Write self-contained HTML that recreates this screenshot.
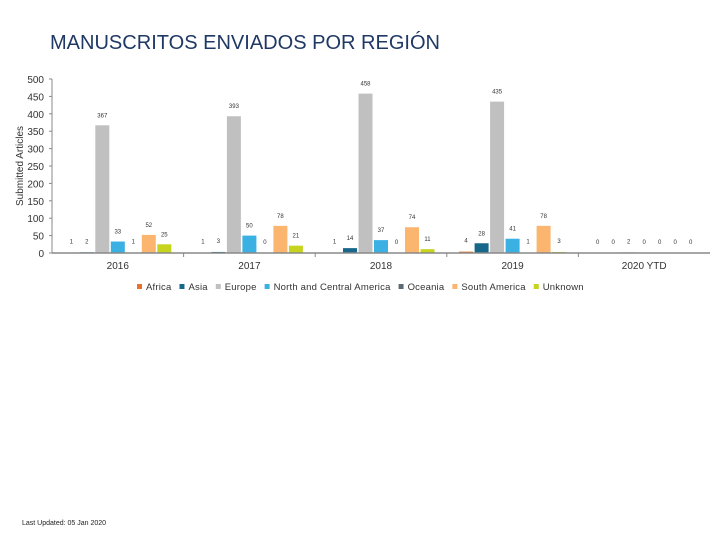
<!DOCTYPE html>
<html><head><meta charset="utf-8"><style>
body{margin:0;background:#fff;font-family:"Liberation Sans",sans-serif}
#wrap{position:relative;width:720px;height:540px}
</style></head><body>
<div id="wrap">
<svg id="c" width="720" height="540"></svg>
</div>
<script>
const categories=["2016","2017","2018","2019","2020 YTD"];
const seriesNames=["Africa","Asia","Europe","North and Central America","Oceania","South America","Unknown"];
const africa=[1,1,1,4,0];
const asia=[2,3,14,28,0];
const europe=[367,393,458,435,2];
const northCentralAmerica=[33,50,37,41,0];
const oceania=[1,0,0,1,0];
const southAmerica=[52,78,74,78,0];
const unknown=[25,21,11,3,0];
const yTicks=[0,50,100,150,200,250,300,350,400,450,500];
const colors=["#e8722c","#17678a","#c0c0c0","#3bb1e3","#5b6a74","#fbb56e","#c6d41d"];
const series=[africa,asia,europe,northCentralAmerica,oceania,southAmerica,unknown];
const NS="http://www.w3.org/2000/svg";
const svg=document.getElementById('c');
function mk(t,a,txt){const e=document.createElementNS(NS,t);for(const k in a)e.setAttribute(k,a[k]);if(txt!==undefined)e.textContent=txt;svg.appendChild(e);return e;}
const x0=52,x1=710,yB=253,yT=79,ymax=500;
const gw=(x1-x0)/categories.length;
const y=v=>yB-(v/ymax)*(yB-yT);
const bx=(g,s)=>x0+g*gw+(gw-7*15.5)/2+s*15.5+0.75;
let e=mk('text',{x:50,y:49,'font-size':20,fill:'#1f3864','textLength':390,'lengthAdjust':'spacingAndGlyphs'},'MANUSCRITOS ENVIADOS POR REGIÓN');

e=mk('line',{x1:x0,y1:yT,x2:x0,y2:yB,stroke:'#888'});

yTicks.forEach(t=>{const l=mk('text',{x:44,y:y(t)+4,'font-size':10,fill:'#333','text-anchor':'end'},t);

mk('line',{x1:x0-3,y1:y(t),x2:x0,y2:y(t),stroke:'#888'});});
e=mk('text',{transform:'translate(23,166) rotate(-90)','font-size':10,fill:'#333','text-anchor':'middle'},'Submitted Articles');

categories.forEach((c,g)=>{
 const l=mk('text',{x:x0+g*gw+gw/2,y:269,'font-size':10,fill:'#333','text-anchor':'middle'},c);
 
 if(g>0)mk('line',{x1:x0+g*gw,y1:yB,x2:x0+g*gw,y2:yB+4,stroke:'#888'});
 series.forEach((arr,s)=>{
  const v=arr[g];const X=bx(g,s);
  const r=mk('rect',{x:X,y:y(v),width:14,height:yB-y(v),fill:colors[s]});
  
  
  const big=v>=5;
  const t=mk('text',{x:X+7,y:big?y(v)-8:y(v)-9,'font-size':6,fill:'#333','text-anchor':'middle'},v);
  
 });
});
e=mk('line',{x1:x0,y1:yB,x2:x1,y2:yB,stroke:'#888','stroke-width':1.5});

let lx=137;
seriesNames.forEach((n,s)=>{
 const r=mk('rect',{x:lx,y:284,width:5,height:5,fill:colors[s]});
 
 const t=mk('text',{x:lx+9,y:290,'font-size':9.5,fill:'#333','letter-spacing':'0.2'},n);
 
 lx+=9+t.getComputedTextLength()+8;
});
e=mk('text',{x:22,y:525,'font-size':7,fill:'#222'},'Last Updated: 05 Jan 2020');

</script>
</body></html>
